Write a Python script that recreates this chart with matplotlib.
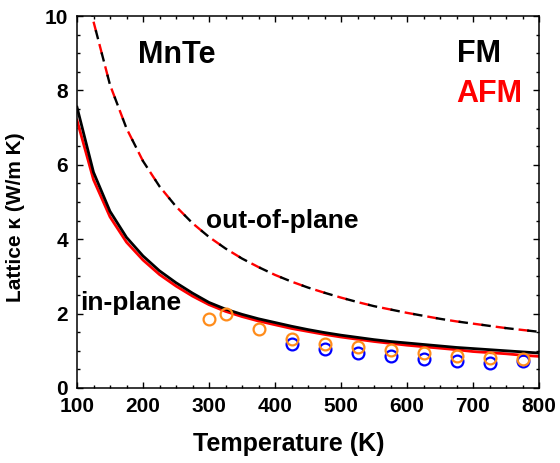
import matplotlib
matplotlib.use("Agg")
import matplotlib.pyplot as plt
from matplotlib.ticker import MultipleLocator

plt.rcParams["font.family"] = ["Liberation Sans", "DejaVu Sans"]
plt.rcParams["font.weight"] = "bold"
plt.rcParams["lines.scale_dashes"] = False

# temperature grid of the calculated curves (K)
T_calc = [100, 125, 150, 175, 200, 225, 250, 275, 300, 325, 350, 375, 400, 425, 450,
          475, 500, 525, 550, 575, 600, 625, 650, 675, 700, 725, 750, 775, 800]

# in-plane, FM (black) and AFM (red)
k_in_fm = [7.55, 5.80, 4.75, 4.05, 3.55, 3.15, 2.83, 2.55, 2.30, 2.12, 1.98, 1.86, 1.76,
           1.66, 1.57, 1.49, 1.42, 1.36, 1.30, 1.25, 1.21, 1.17, 1.13, 1.09, 1.06, 1.03,
           1.00, 0.97, 0.94]
k_in_afm = [7.20, 5.60, 4.60, 3.92, 3.44, 3.05, 2.74, 2.47, 2.24, 2.06, 1.92, 1.80, 1.70,
            1.60, 1.52, 1.44, 1.37, 1.31, 1.25, 1.20, 1.15, 1.11, 1.07, 1.03, 0.98, 0.95,
            0.92, 0.88, 0.85]

# out-of-plane, FM and AFM (nearly identical)
k_out_fm = [12.4, 9.85, 8.15, 6.98, 6.10, 5.42, 4.88, 4.43, 4.06, 3.75, 3.48, 3.25, 3.04,
            2.86, 2.70, 2.56, 2.43, 2.31, 2.20, 2.11, 2.02, 1.94, 1.86, 1.79, 1.73, 1.67,
            1.61, 1.56, 1.51]
k_out_afm = [12.4, 9.85, 8.15, 6.98, 6.10, 5.42, 4.88, 4.43, 4.06, 3.75, 3.48, 3.25, 3.04,
             2.86, 2.70, 2.56, 2.43, 2.31, 2.20, 2.11, 2.02, 1.94, 1.86, 1.79, 1.73, 1.67,
             1.61, 1.56, 1.51]

# experimental points
T_exp_orange = [300, 325, 375, 425, 475, 525, 575, 625, 675, 725, 775]
k_exp_orange = [1.85, 2.00, 1.58, 1.33, 1.18, 1.10, 1.01, 0.93, 0.86, 0.80, 0.77]
T_exp_blue = [425, 475, 525, 575, 625, 675, 725, 775]
k_exp_blue = [1.18, 1.04, 0.93, 0.85, 0.79, 0.73, 0.67, 0.72]

fig = plt.figure(figsize=(5.6, 4.63), dpi=100)
ax = fig.add_axes([0.1375, 0.162, 0.825, 0.8034])

# the two out-of-plane dashed curves overlap, offset dashes so both colours show
ax.plot(T_calc, k_out_afm, color="red", lw=1.7, ls=(0, (7.5, 9.1)))
ax.plot(T_calc, k_out_fm, color="black", lw=1.7, ls=(10.4, (6.8, 9.8)))
ax.plot(T_calc, k_in_afm, color="red", lw=2.0)
ax.plot(T_calc, k_in_fm, color="black", lw=2.0)

ax.plot(T_exp_blue, k_exp_blue, "o", mfc="none", mec="#0000FF", mew=1.6, ms=8.5)
ax.plot(T_exp_orange, k_exp_orange, "o", mfc="none", mec="#FF8C1A", mew=1.6, ms=8.5)

ax.set_xlim(100, 800)
ax.set_ylim(0, 10)
ax.xaxis.set_major_locator(MultipleLocator(100))
ax.xaxis.set_minor_locator(MultipleLocator(25))
ax.yaxis.set_major_locator(MultipleLocator(2))
ax.yaxis.set_minor_locator(MultipleLocator(0.5))
ax.tick_params(which="both", direction="in", top=True, right=True, width=1.0)
ax.tick_params(which="major", length=4.5, labelsize=15, pad=6.5)
ax.tick_params(which="minor", length=2.5)
for lab in ax.get_xticklabels() + ax.get_yticklabels():
    lab.set_fontweight("bold")
for sp in ax.spines.values():
    sp.set_linewidth(1.1)

ax.set_xlabel("Temperature (K)", fontsize=18, fontweight="bold")
ax.set_ylabel("Lattice \u03ba (W/m K)", fontsize=15, fontweight="bold")
ax.xaxis.set_label_coords(0.459, -0.118)
ax.yaxis.set_label_coords(-0.113, 0.46)


def fig_text(px, py, s, **kw):
    # pixel position (from top-left, baseline) to figure fraction
    fig.text(px / 560, 1 - py / 463, s, fontweight="bold", va="baseline", ha="left", **kw)


fig_text(138, 63, "MnTe", fontsize=22)
fig_text(457, 62, "FM", fontsize=22, color="black")
fig_text(456, 102, "AFM", fontsize=22, color="red")
fig_text(206, 228, "out-of-plane", fontsize=19)
fig_text(80, 310, "in-plane", fontsize=19)

fig.savefig("out.png", dpi=100)
